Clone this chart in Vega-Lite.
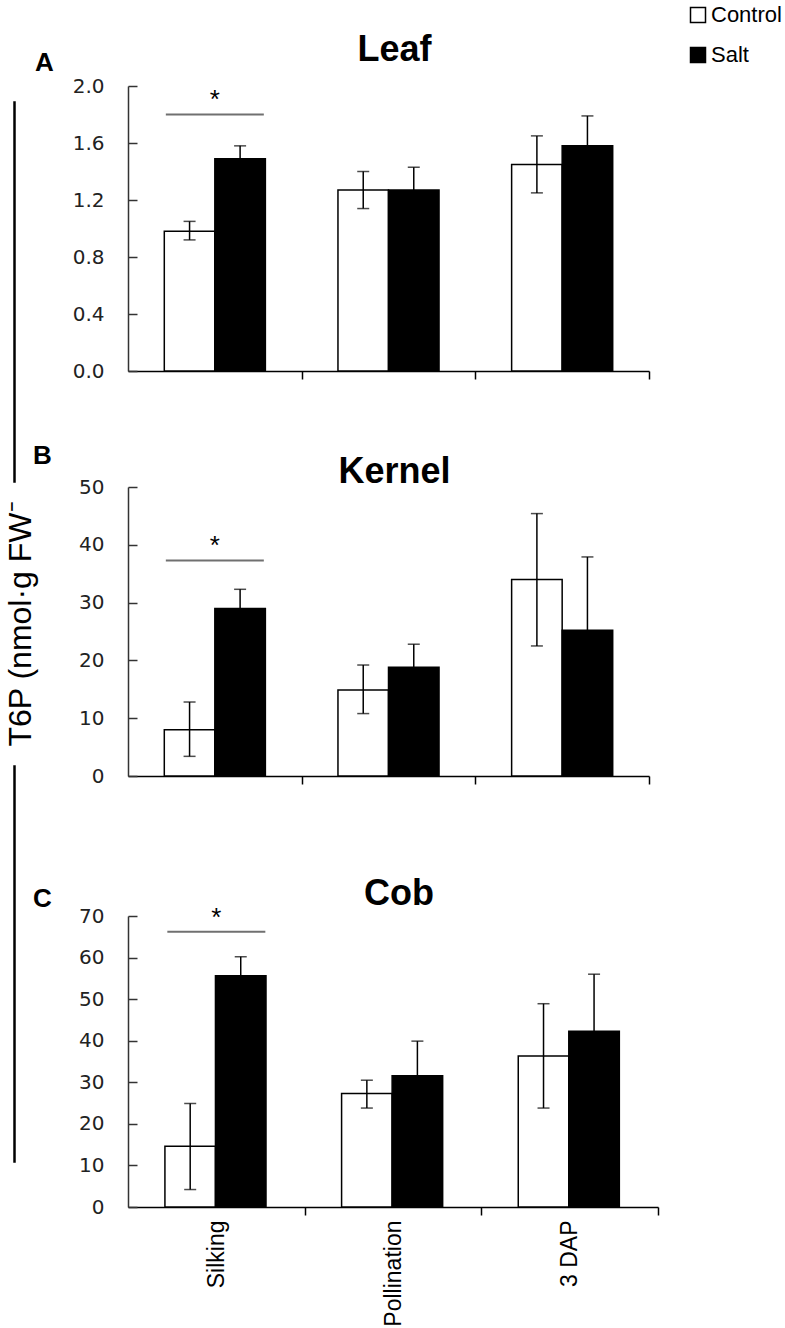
{
  "$schema": "https://vega.github.io/schema/vega-lite/v6.json",
  "padding": {"top": 4, "left": 4, "right": 0, "bottom": 0},
  "datasets": {
    "bars": [
      {"panel": "A", "stage": "Silking", "treatment": "Control", "mean": 0.98, "lo": 0.92, "hi": 1.05},
      {"panel": "A", "stage": "Silking", "treatment": "Salt", "mean": 1.49, "lo": 1.40, "hi": 1.58},
      {"panel": "A", "stage": "Pollination", "treatment": "Control", "mean": 1.27, "lo": 1.14, "hi": 1.40},
      {"panel": "A", "stage": "Pollination", "treatment": "Salt", "mean": 1.27, "lo": 1.11, "hi": 1.43},
      {"panel": "A", "stage": "3 DAP", "treatment": "Control", "mean": 1.45, "lo": 1.25, "hi": 1.65},
      {"panel": "A", "stage": "3 DAP", "treatment": "Salt", "mean": 1.58, "lo": 1.37, "hi": 1.79},
      {"panel": "B", "stage": "Silking", "treatment": "Control", "mean": 8.0, "lo": 3.4, "hi": 12.8},
      {"panel": "B", "stage": "Silking", "treatment": "Salt", "mean": 29.0, "lo": 25.7, "hi": 32.3},
      {"panel": "B", "stage": "Pollination", "treatment": "Control", "mean": 14.9, "lo": 10.8, "hi": 19.2},
      {"panel": "B", "stage": "Pollination", "treatment": "Salt", "mean": 18.8, "lo": 14.8, "hi": 22.8},
      {"panel": "B", "stage": "3 DAP", "treatment": "Control", "mean": 34.0, "lo": 22.5, "hi": 45.4},
      {"panel": "B", "stage": "3 DAP", "treatment": "Salt", "mean": 25.2, "lo": 12.5, "hi": 37.9},
      {"panel": "C", "stage": "Silking", "treatment": "Control", "mean": 14.6, "lo": 4.2, "hi": 24.9},
      {"panel": "C", "stage": "Silking", "treatment": "Salt", "mean": 55.6, "lo": 51.0, "hi": 60.2},
      {"panel": "C", "stage": "Pollination", "treatment": "Control", "mean": 27.3, "lo": 23.8, "hi": 30.5},
      {"panel": "C", "stage": "Pollination", "treatment": "Salt", "mean": 31.6, "lo": 23.3, "hi": 39.9},
      {"panel": "C", "stage": "3 DAP", "treatment": "Control", "mean": 36.3, "lo": 23.8, "hi": 48.9},
      {"panel": "C", "stage": "3 DAP", "treatment": "Salt", "mean": 42.3, "lo": 28.6, "hi": 56.0}
    ],
    "sig": [
      {"panel": "A", "stage": "Silking", "line": 1.80, "star": 1.94, "mark": "*"},
      {"panel": "B", "stage": "Silking", "line": 37.3, "star": 40.6, "mark": "*"},
      {"panel": "C", "stage": "Silking", "line": 66.2, "star": 70.8, "mark": "*"}
    ],
    "ylabel": [{"label": "T6P (nmol·g FW⁻"}],
    "blank": [{"label": ""}]
  },
  "hconcat": [
    {
      "vconcat": [
        {"width": 1, "height": 16, "data": {"name": "blank"}, "mark": {"type": "text"}, "encoding": {"text": {"field": "label"}}},
        {"width": 1, "height": 380, "view": {"stroke": "black", "strokeWidth": 1.5}, "data": {"name": "blank"}, "mark": {"type": "text"}, "encoding": {"text": {"field": "label"}}},
        {"width": 14, "height": 284, "data": {"name": "ylabel"}, "mark": {"type": "text", "angle": 270, "font": "Liberation Sans", "fontSize": 32, "align": "center", "baseline": "middle", "color": "black"}, "encoding": {"text": {"field": "label"}}},
        {"width": 1, "height": 396, "view": {"stroke": "black", "strokeWidth": 1.5}, "data": {"name": "blank"}, "mark": {"type": "text"}, "encoding": {"text": {"field": "label"}}}
      ],
      "spacing": 0,
      "bounds": "flush"
    },
    {
      "vconcat": [
        {
          "width": 521, "height": 285,
          "title": {"text": "Leaf", "offset": -20},
          "encoding": {
            "x": {"field": "stage", "type": "nominal", "scale": {"domain": ["Silking", "Pollination", "3 DAP"], "paddingInner": 0.418, "paddingOuter": 0.209},
                  "axis": {"title": null, "labels": false, "tickSize": 8, "tickOffset": 86.8, "domainColor": "black", "domainWidth": 1.5, "tickColor": "black", "tickWidth": 1.5}}
          },
          "layer": [
            {"data": {"name": "bars"}, "transform": [{"filter": "datum.panel === 'A'"}],
             "mark": {"type": "bar", "stroke": "black", "strokeWidth": 1.5},
             "encoding": {"xOffset": {"field": "treatment", "type": "nominal", "scale": {"domain": ["Control", "Salt"]}},
                          "y": {"field": "mean", "type": "quantitative", "scale": {"domain": [0, 2], "nice": false},
                                "axis": {"title": "A", "titleAngle": 0, "titleX": -84, "titleY": -24, "titleFontSize": 26, "titleFontWeight": "bold", "titleFont": "Liberation Sans", "titleAlign": "center", "titleBaseline": "middle", "titleColor": "black",
                                         "values": [0, 0.4, 0.8, 1.2, 1.6, 2.0], "format": ".1f"}},
                          "color": {"field": "treatment", "type": "nominal", "title": null, "scale": {"domain": ["Control", "Salt"], "range": ["white", "black"]}}}},
            {"data": {"name": "bars"}, "transform": [{"filter": "datum.panel === 'A'"}],
             "mark": {"type": "rule", "color": "black", "strokeWidth": 1.5},
             "encoding": {"xOffset": {"field": "treatment", "type": "nominal"}, "y": {"field": "lo", "type": "quantitative"}, "y2": {"field": "hi"}}},
            {"data": {"name": "bars"}, "transform": [{"filter": "datum.panel === 'A'"}],
             "mark": {"type": "tick", "color": "black", "size": 12, "thickness": 1.5},
             "encoding": {"xOffset": {"field": "treatment", "type": "nominal"}, "y": {"field": "hi", "type": "quantitative"}}},
            {"data": {"name": "bars"}, "transform": [{"filter": "datum.panel === 'A'"}],
             "mark": {"type": "tick", "color": "black", "size": 12, "thickness": 1.5},
             "encoding": {"xOffset": {"field": "treatment", "type": "nominal"}, "y": {"field": "lo", "type": "quantitative"}}},
            {"data": {"name": "sig"}, "transform": [{"filter": "datum.panel === 'A'"}],
             "mark": {"type": "tick", "color": "#333", "size": 98, "thickness": 2},
             "encoding": {"y": {"field": "line", "type": "quantitative"}}},
            {"data": {"name": "sig"}, "transform": [{"filter": "datum.panel === 'A'"}],
             "mark": {"type": "text", "font": "Liberation Sans", "fontSize": 26, "baseline": "middle", "dy": 5, "color": "black"},
             "encoding": {"y": {"field": "star", "type": "quantitative"}, "text": {"field": "mark"}}}
          ]
        },
        {
          "vconcat": [
            {
              "width": 521, "height": 289,
              "title": {"text": "Kernel", "offset": -49},
              "encoding": {
                "x": {"field": "stage", "type": "nominal", "scale": {"domain": ["Silking", "Pollination", "3 DAP"], "paddingInner": 0.418, "paddingOuter": 0.209},
                      "axis": {"title": null, "labels": false, "tickSize": 8, "tickOffset": 86.8, "domainColor": "black", "domainWidth": 1.5, "tickColor": "black", "tickWidth": 1.5}}
              },
              "layer": [
                {"data": {"name": "bars"}, "transform": [{"filter": "datum.panel === 'B'"}],
                 "mark": {"type": "bar", "stroke": "black", "strokeWidth": 1.5},
                 "encoding": {"xOffset": {"field": "treatment", "type": "nominal", "scale": {"domain": ["Control", "Salt"]}},
                              "y": {"field": "mean", "type": "quantitative", "scale": {"domain": [0, 50], "nice": false},
                                    "axis": {"title": "B", "titleAngle": 0, "titleX": -86, "titleY": -32, "titleFontSize": 26, "titleFontWeight": "bold", "titleFont": "Liberation Sans", "titleAlign": "center", "titleBaseline": "middle", "titleColor": "black",
                                             "values": [0, 10, 20, 30, 40, 50]}},
                              "color": {"field": "treatment", "type": "nominal", "title": null, "scale": {"domain": ["Control", "Salt"], "range": ["white", "black"]}}}},
                {"data": {"name": "bars"}, "transform": [{"filter": "datum.panel === 'B'"}],
                 "mark": {"type": "rule", "color": "black", "strokeWidth": 1.5},
                 "encoding": {"xOffset": {"field": "treatment", "type": "nominal"}, "y": {"field": "lo", "type": "quantitative"}, "y2": {"field": "hi"}}},
                {"data": {"name": "bars"}, "transform": [{"filter": "datum.panel === 'B'"}],
                 "mark": {"type": "tick", "color": "black", "size": 12, "thickness": 1.5},
                 "encoding": {"xOffset": {"field": "treatment", "type": "nominal"}, "y": {"field": "hi", "type": "quantitative"}}},
                {"data": {"name": "bars"}, "transform": [{"filter": "datum.panel === 'B'"}],
                 "mark": {"type": "tick", "color": "black", "size": 12, "thickness": 1.5},
                 "encoding": {"xOffset": {"field": "treatment", "type": "nominal"}, "y": {"field": "lo", "type": "quantitative"}}},
                {"data": {"name": "sig"}, "transform": [{"filter": "datum.panel === 'B'"}],
                 "mark": {"type": "tick", "color": "#333", "size": 98, "thickness": 2},
                 "encoding": {"y": {"field": "line", "type": "quantitative"}}},
                {"data": {"name": "sig"}, "transform": [{"filter": "datum.panel === 'B'"}],
                 "mark": {"type": "text", "font": "Liberation Sans", "fontSize": 26, "baseline": "middle", "dy": 5, "color": "black"},
                 "encoding": {"y": {"field": "star", "type": "quantitative"}, "text": {"field": "mark"}}}
              ]
            },
            {
              "width": 530, "height": 291,
              "title": {"text": "Cob", "offset": -28},
              "encoding": {
                "x": {"field": "stage", "type": "nominal", "scale": {"domain": ["Silking", "Pollination", "3 DAP"], "paddingInner": 0.418, "paddingOuter": 0.209},
                      "axis": {"title": null, "labels": true, "labelAngle": -90, "labelFont": "Liberation Sans", "labelFontSize": 23, "labelColor": "black", "labelPadding": 5, "labelOffset": -88.3, "tickSize": 8, "tickOffset": 88.3, "domainColor": "black", "domainWidth": 1.5, "tickColor": "black", "tickWidth": 1.5}}
              },
              "layer": [
                {"data": {"name": "bars"}, "transform": [{"filter": "datum.panel === 'C'"}],
                 "mark": {"type": "bar", "stroke": "black", "strokeWidth": 1.5},
                 "encoding": {"xOffset": {"field": "treatment", "type": "nominal", "scale": {"domain": ["Control", "Salt"]}},
                              "y": {"field": "mean", "type": "quantitative", "scale": {"domain": [0, 70], "nice": false},
                                    "axis": {"title": "C", "titleAngle": 0, "titleX": -86, "titleY": -18, "titleFontSize": 26, "titleFontWeight": "bold", "titleFont": "Liberation Sans", "titleAlign": "center", "titleBaseline": "middle", "titleColor": "black",
                                             "values": [0, 10, 20, 30, 40, 50, 60, 70]}},
                              "color": {"field": "treatment", "type": "nominal", "title": null, "scale": {"domain": ["Control", "Salt"], "range": ["white", "black"]}}}},
                {"data": {"name": "bars"}, "transform": [{"filter": "datum.panel === 'C'"}],
                 "mark": {"type": "rule", "color": "black", "strokeWidth": 1.5},
                 "encoding": {"xOffset": {"field": "treatment", "type": "nominal"}, "y": {"field": "lo", "type": "quantitative"}, "y2": {"field": "hi"}}},
                {"data": {"name": "bars"}, "transform": [{"filter": "datum.panel === 'C'"}],
                 "mark": {"type": "tick", "color": "black", "size": 12, "thickness": 1.5},
                 "encoding": {"xOffset": {"field": "treatment", "type": "nominal"}, "y": {"field": "hi", "type": "quantitative"}}},
                {"data": {"name": "bars"}, "transform": [{"filter": "datum.panel === 'C'"}],
                 "mark": {"type": "tick", "color": "black", "size": 12, "thickness": 1.5},
                 "encoding": {"xOffset": {"field": "treatment", "type": "nominal"}, "y": {"field": "lo", "type": "quantitative"}}},
                {"data": {"name": "sig"}, "transform": [{"filter": "datum.panel === 'C'"}],
                 "mark": {"type": "tick", "color": "#333", "size": 98, "thickness": 2},
                 "encoding": {"y": {"field": "line", "type": "quantitative"}}},
                {"data": {"name": "sig"}, "transform": [{"filter": "datum.panel === 'C'"}],
                 "mark": {"type": "text", "font": "Liberation Sans", "fontSize": 26, "baseline": "middle", "dy": 5, "color": "black", "clip": false},
                 "encoding": {"y": {"field": "star", "type": "quantitative"}, "text": {"field": "mark"}}}
              ]
            }
          ],
          "spacing": 90
        }
      ],
      "spacing": 61
    }
  ],
  "spacing": -6,
  "config": {
    "view": {"stroke": null},
    "title": {"font": "Liberation Sans", "fontSize": 36, "fontWeight": "bold", "color": "black", "anchor": "middle", "frame": "group", "dx": 6},
    "axisY": {"labelFont": "DejaVu Sans", "labelFontSize": 20, "labelColor": "#222", "tickSize": -9, "labelPadding": 33, "domainColor": "#333", "domainWidth": 1.5, "tickColor": "#333", "tickWidth": 1.5, "grid": false},
    "axisX": {"grid": false},
    "legend": {"orient": "none", "legendX": 673, "legendY": -82, "symbolType": "square", "symbolSize": 225, "symbolStrokeColor": "black", "symbolStrokeWidth": 1.5, "labelFont": "Liberation Sans", "labelFontSize": 22, "labelColor": "black", "labelOffset": 2, "rowPadding": 18, "padding": 0}
  }
}
